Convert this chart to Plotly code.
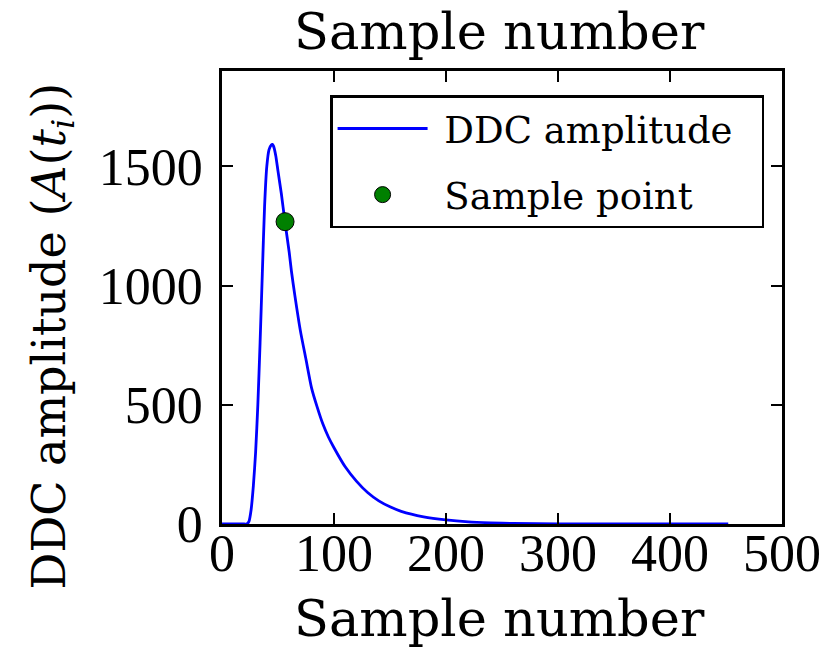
import plotly.graph_objects as go

# DDC amplitude trace (sample number vs amplitude)
sample_number = [0, 10, 20, 22, 24, 26, 28, 30, 32, 34, 36, 38, 40, 42, 44, 45,
                 46, 48, 50, 53, 56, 60, 62, 65, 70, 75, 80, 85, 90, 95, 100,
                 110, 120, 130, 140, 150, 160, 180, 200, 220, 240, 260, 300,
                 350, 400, 452]
ddc_amplitude = [0, 0, 0, 0, 10, 60, 160, 300, 500, 760, 1050, 1330, 1500, 1570,
                 1590, 1592, 1585, 1545, 1480, 1385, 1275, 1140, 1060, 960, 810,
                 690, 570, 490, 420, 365, 320, 240, 180, 132, 97, 72, 53, 30, 17,
                 9, 5, 2.5, 0.7, 0.1, 0, 0]

# Highlighted sample
sample_x = [56.3]
sample_y = [1268]

x_ticks = [0, 100, 200, 300, 400, 500]
y_ticks = [0, 500, 1000, 1500]
x_range = [0, 500]
y_range = [0, 1900]

LABEL_FONT = "DejaVu Serif"
TICK_FONT = "serif"
NBSP = "\u00a0"


def legend_name(text):
    # pad legend entries so the sample line and the label sit apart
    return NBSP + text + NBSP * 2


fig = go.Figure()
fig.add_trace(go.Scatter(
    x=sample_number, y=ddc_amplitude, mode="lines",
    name=legend_name("DDC amplitude"), legendgroup="amp",
    line=dict(color="#0000ff", width=2.8, shape="spline", smoothing=0.6),
))
fig.add_trace(go.Scatter(
    x=sample_x, y=sample_y, mode="markers",
    name=legend_name("Sample point"), legendgroup="pt",
    marker=dict(color="#008000", size=18, line=dict(color="black", width=1)),
))

axis_common = dict(
    showline=True, linecolor="black", linewidth=2.5, mirror="allticks",
    ticks="inside", ticklen=11, tickwidth=1.5, tickcolor="black",
    showgrid=False, zeroline=False, automargin=False,
    tickfont=dict(family=TICK_FONT, size=52, color="black"),
)

fig.update_layout(
    width=824, height=648,
    margin=dict(l=222, r=42, t=71, b=124),
    paper_bgcolor="white", plot_bgcolor="white",
    showlegend=True,
    legend=dict(
        x=0.968, y=0.946, xanchor="right", yanchor="top",
        bgcolor="white", bordercolor="black", borderwidth=2.5,
        font=dict(family=LABEL_FONT, size=37, color="black"),
        itemwidth=90, tracegroupgap=15,
    ),
    xaxis=dict(range=x_range, tickvals=x_ticks, ticklabelstandoff=-18, **axis_common),
    yaxis=dict(range=y_range, tickvals=y_ticks, ticklabelstandoff=6, **axis_common),
    annotations=[
        dict(text="Sample number", xref="paper", yref="paper", x=0.496, y=1.0,
             yshift=40, showarrow=False, xanchor="center", yanchor="middle",
             font=dict(family=LABEL_FONT, size=51, color="black")),
        dict(text="Sample number", xref="paper", yref="paper", x=0.496, y=0.0,
             yshift=-94, showarrow=False, xanchor="center", yanchor="middle",
             font=dict(family=LABEL_FONT, size=51, color="black")),
        dict(text="DDC amplitude (<i>A</i>(<i>t<sub>i</sub></i>))",
             xref="paper", yref="paper", x=0.0, y=0.5, xshift=-170, yshift=-39,
             textangle=-90, showarrow=False, xanchor="center", yanchor="middle",
             font=dict(family=LABEL_FONT, size=46, color="black")),
    ],
)

fig.write_html("out.html")
